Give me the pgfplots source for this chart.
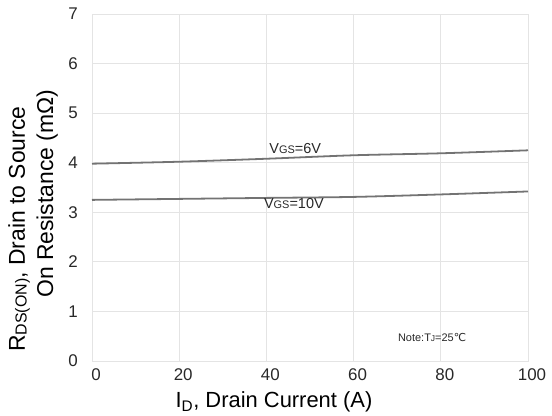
\documentclass[border=0pt]{standalone}
\usepackage{fontspec}
\setmainfont{Liberation Sans}
\newfontfamily\symfont{DejaVu Sans}
\usepackage{pgfplots}
\pgfplotsset{compat=1.18}
\usetikzlibrary{calc}
\definecolor{gridgray}{RGB}{228,228,228}
\definecolor{curvegray}{RGB}{115,115,115}
\definecolor{ticktext}{RGB}{40,40,40}
\begin{document}
\begin{tikzpicture}
\begin{axis}[
  scale only axis,
  width=436bp, height=347bp,
  xmin=0, xmax=100, ymin=0, ymax=7,
  xtick={0,20,...,100}, ytick={0,1,...,7},
  grid=major,
  major grid style={gridgray, line width=0.9pt},
  axis line style={gridgray, line width=0.9pt},
  tick style={draw=none},
  clip=false,
  /pgf/number format/assume math mode=true,
  ticklabel style={font=\fontsize{17}{19}\selectfont, text=ticktext},
  xticklabel style={anchor=center, yshift=-14bp, xshift=4bp},
  yticklabel style={anchor=center, xshift=-19bp},
  xlabel={I\textsubscript{D}, Drain Current (A)},
  xlabel style={font=\fontsize{22}{24}\selectfont, at={(rel axis cs:0,0)}, anchor=base, xshift=182bp, yshift=-47bp},
]
\addplot[curvegray, line width=1.8pt, smooth] coordinates {
  (0,3.98) (20,4.02) (40,4.08) (60,4.15) (80,4.19) (100,4.25)
};
\addplot[curvegray, line width=1.8pt, smooth] coordinates {
  (0,3.25) (20,3.27) (40,3.29) (60,3.31) (80,3.36) (100,3.42)
};
\node[font=\fontsize{14.5}{16}\selectfont, text=ticktext] at (axis cs:46.6,4.29) {V{\fontsize{11}{12}\selectfont GS}=6V};
\node[font=\fontsize{14.5}{16}\selectfont, text=ticktext] at (axis cs:46.3,3.17) {V{\fontsize{11}{12}\selectfont GS}=10V};
\node[font=\fontsize{11}{13}\selectfont, text=ticktext] at (axis cs:78,0.48) {Note:T{\fontsize{8.5}{10}\selectfont J}=25{\symfont ℃}};
\coordinate (ll) at (rel axis cs:0,0);
\coordinate (ur) at (rel axis cs:1,1);
\end{axis}
\node[rotate=90, anchor=base west, font=\fontsize{23}{25}\selectfont, inner sep=0pt]
  at ($(ll)+(-67bp,9bp)$) {R{\fontsize{16}{18}\selectfont\raisebox{-0.2ex}{DS(ON)}}, Drain to Source};
\node[rotate=90, anchor=base west, font=\fontsize{23}{25}\selectfont, inner sep=0pt]
  at ($(ll)+(-39bp,63bp)$) {On Resistance (mΩ)};
\path ($(ll)+(-92bp,-55bp)$);
\path ($(ur)+(24bp,14bp)$);
\end{tikzpicture}
\end{document}
